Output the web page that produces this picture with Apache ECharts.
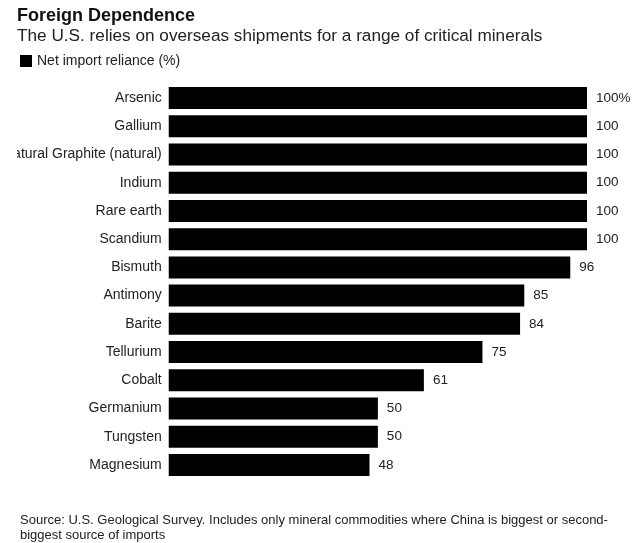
<!DOCTYPE html>
<html><head><meta charset="utf-8">
<script src="https://cdn.jsdelivr.net/npm/echarts@6/dist/echarts.min.js"></script>
<style>html,body{margin:0;padding:0;background:#fff}#c{width:635px;height:543px}</style>
</head><body><div id="c"></div>
<script>
const categories = ["Arsenic","Gallium","Natural Graphite (natural)","Indium","Rare earth","Scandium","Bismuth","Antimony","Barite","Tellurium","Cobalt","Germanium","Tungsten","Magnesium"];
const values = [100,100,100,100,100,100,96,85,84,75,61,50,50,48];
const seriesName = "Net import reliance (%)";
const FONT = "'Liberation Sans', Arial, sans-serif";
const chart = echarts.init(document.getElementById('c'));
chart.setOption({
  animation:false,
  backgroundColor:'#fff',
  title:[
    {text:'Foreign Dependence', left:12, top:2, textStyle:{fontFamily:FONT,fontSize:18,fontWeight:'bold',color:'#111'}},
    {text:'The U.S. relies on overseas shipments for a range of critical minerals', left:12, top:23, textStyle:{fontFamily:FONT,fontSize:17.2,fontWeight:'normal',color:'#222'}},
    {text:'Source: U.S. Geological Survey. Includes only mineral commodities where China is biggest or second-\nbiggest source of imports', left:15, top:508, textStyle:{fontFamily:FONT,fontSize:13,fontWeight:'normal',color:'#222',lineHeight:15}}
  ],
  legend:{left:15, top:49, itemWidth:12, itemHeight:12, icon:'rect', itemGap:11,
    textStyle:{fontFamily:FONT,fontSize:14,color:'#222'}, data:[seriesName]},
  grid:{left:167, top:84, width:420, height:395},
  xAxis:{type:'value', min:0, max:100, show:false},
  yAxis:{type:'category', data:categories, inverse:true,
    axisLine:{show:false}, axisTick:{show:false},
    axisLabel:{fontFamily:FONT,fontSize:14,color:'#222',margin:7}},
  series:[{name:seriesName, type:'bar', data:values, barWidth:22,
    itemStyle:{color:'#000'},
    label:{show:true, position:'right', distance:9, fontFamily:FONT, fontSize:13.5, color:'#222',
      formatter:p=> p.dataIndex===0 ? p.value+'%' : String(p.value)}}],
  graphic:[{type:'rect', left:0, top:140, shape:{width:17, height:30}, style:{fill:'#fff'}, z:100}]
});
</script></body></html>
